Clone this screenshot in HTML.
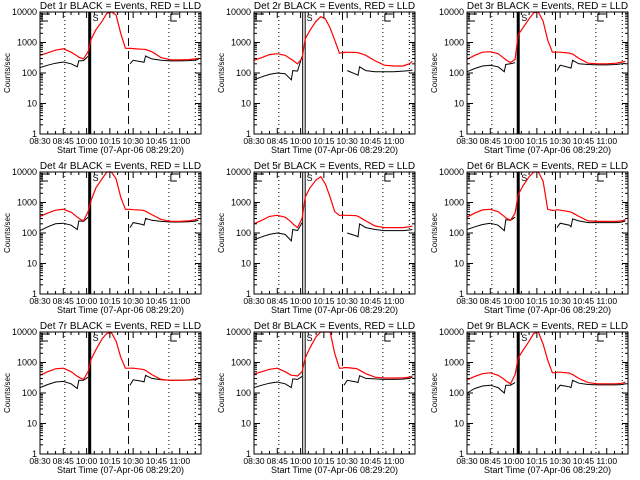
<!DOCTYPE html>
<html><head><meta charset="utf-8"><style>
html,body{margin:0;padding:0;background:#fff;}
svg{display:block;font-family:"Liberation Sans",sans-serif;}
</style></head><body>
<svg id="chart" width="640" height="480" viewBox="0 0 640 480"></svg>
<script>
const titles = ["Det 1r","Det 2r","Det 3r","Det 4r","Det 5r","Det 6r","Det 7r","Det 8r","Det 9r"];
const xTickLabels = ["08:30","08:45","10:00","10:15","10:30","10:45","11:00"];
const yTickValues = [1,10,100,1000,10000];
const times = [0,5,10,15,20,24,25,28,31,33,36,40,43,46,49,52,55,57,58,60,66,67,68,72,78,84,90,96,100,102];
const N = null;
const red1 = [380,460,560,620,480,360,330,290,500,1300,2600,5000,9000,11000,8000,2000,650,640,640,630,600,600,590,500,320,270,270,275,290,300];
const blk1 = [150,180,210,230,200,160,250,255,350,N,N,N,N,N,N,N,N,N,200,260,230,225,360,290,260,250,250,255,265,280];
const red2 = [260,320,400,430,380,280,260,200,300,1300,2500,5000,7000,6000,3000,1200,450,460,470,480,470,460,450,380,250,180,170,170,200,240];
const blk2 = [60,75,90,100,95,60,120,115,350,N,N,N,N,N,N,N,N,N,N,120,90,85,160,120,110,110,110,115,120,125];
const red3 = [280,380,480,500,430,300,270,220,280,1800,3000,6000,9500,10000,5000,1200,480,480,480,480,450,430,420,300,210,200,200,210,230,240];
const blk3 = [110,140,170,180,160,110,190,200,220,N,N,N,N,N,N,N,N,N,120,180,150,145,260,200,190,185,185,190,200,205];
const red4 = [350,450,560,600,480,330,300,250,500,1200,3000,6000,10000,11000,6000,1500,600,600,600,580,560,540,520,400,280,240,240,250,270,300];
const blk4 = [120,160,200,210,180,130,250,240,330,N,N,N,N,N,N,N,N,N,150,220,190,180,300,260,240,230,230,235,245,260];
const red5 = [200,260,350,380,330,230,200,150,300,1500,3000,5500,7000,4000,1500,500,380,380,380,380,370,350,330,250,170,150,150,150,160,170];
const blk5 = [60,75,90,100,90,55,130,120,220,N,N,N,N,N,N,N,N,N,N,100,80,75,200,150,130,120,120,120,125,130];
const red6 = [330,450,570,600,500,350,310,260,450,1800,3500,7000,11000,12000,5000,600,550,560,580,560,500,480,460,350,250,240,240,240,250,280];
const blk6 = [130,160,190,210,180,120,270,260,330,N,N,N,N,N,N,N,N,N,150,210,180,160,290,250,220,220,220,220,230,250];
const red7 = [380,500,620,650,500,350,330,280,500,1300,2600,6000,9000,9500,5000,1500,650,650,650,650,600,580,550,400,280,260,260,270,290,310];
const blk7 = [150,190,230,240,200,140,260,260,330,N,N,N,N,N,N,N,N,N,180,270,240,230,380,300,270,260,260,265,275,290];
const red8 = [420,500,600,650,500,380,380,360,500,1400,3000,7000,12000,13000,10000,2000,650,650,680,680,630,600,560,430,330,310,310,310,330,360];
const blk8 = [150,180,210,230,200,150,290,280,350,N,N,N,N,N,N,N,N,N,180,260,230,220,370,300,290,280,280,285,300,330];
const red9 = [270,350,430,460,380,280,250,200,400,1400,2500,5000,9000,11000,4000,1200,460,460,480,480,450,420,400,300,220,200,200,200,210,230];
const blk9 = [100,140,170,180,150,100,180,180,220,N,N,N,N,N,N,N,N,N,130,180,160,150,260,210,190,185,185,185,190,200];
const reds = [red1,red2,red3,red4,red5,red6,red7,red8,red9];
const blks = [blk1,blk2,blk3,blk4,blk5,blk6,blk7,blk8,blk9];
const solidLineTime = [32,32,33,32,32,33,32,32,33];
const doubleSolid = [false,true,false,false,true,false,false,true,false];
const dottedTimes = [16,83,100];
const dashedTime = 57;

const NS="http://www.w3.org/2000/svg";
const svg=document.getElementById('chart');
const lefts=[40,254,467], tops=[12,172,332], W=161, H=122, TMAX=103.7;
function mk(tag,attrs,parent){const e=document.createElementNS(NS,tag);for(const k in attrs)e.setAttribute(k,attrs[k]);(parent||svg).appendChild(e);return e;}

for(let p=0;p<9;p++){
  const L=lefts[p%3], T=tops[Math.floor(p/3)], B=T+H;
  const xs=t=>L+t/TMAX*W;
  const ys=v=>B-Math.log10(Math.max(1,Math.min(10000,v)))/4*H;
  const g=mk('g',{});
  
  
  // vertical markers
  dottedTimes.forEach(t=>{const l=mk('line',{x1:xs(t),x2:xs(t),y1:T,y2:B,stroke:'#000','stroke-width':1,'stroke-dasharray':'1,3'},g);
    });
  const dl=mk('line',{x1:xs(dashedTime),x2:xs(dashedTime),y1:T,y2:B,stroke:'#000','stroke-width':1,'stroke-dasharray':'8,5'},g);
  
  const st=solidLineTime[p];
  if(doubleSolid[p]){
    [-1,1.5].forEach(o=>{const l=mk('line',{x1:xs(st)+o,x2:xs(st)+o,y1:T,y2:B,stroke:'#000','stroke-width':1},g);
      });
  } else {
    const l=mk('line',{x1:xs(st),x2:xs(st),y1:T,y2:B,stroke:'#000','stroke-width':3},g);
    
  }
  // brackets
  [0,83].forEach(t=>{const x=xs(t)+2;const b=mk('path',{d:`M${x+8},${T+2} H${x} V${T+9} H${x+6}`,fill:'none',stroke:'#000','stroke-width':1},g);
    });
  const sm=mk('text',{x:xs(st)+3,y:T+9,'font-size':9},g);sm.textContent='S';
  
  // series
  function path(arr){let d='',pen=false;arr.forEach((v,i)=>{if(v===null){pen=false;return;}d+=(pen?'L':'M')+xs(times[i]).toFixed(1)+','+ys(v).toFixed(1);pen=true;});return d;}
  const bl=mk('path',{d:path(blks[p]),fill:'none',stroke:'#000','stroke-width':1},g);
  
  const rl=mk('path',{d:path(reds[p]),fill:'none',stroke:'#f00','stroke-width':1.2},g);
  
  // frame
  const fr=mk('rect',{x:L,y:T,width:W,height:H,fill:'none',stroke:'#000','stroke-width':1},g);
  
  // y ticks
  yTickValues.forEach(v=>{const y=ys(v);
    mk('line',{x1:L,x2:L+6,y1:y,y2:y,stroke:'#000'},g);mk('line',{x1:L+W-6,x2:L+W,y1:y,y2:y,stroke:'#000'},g);
    const tl=mk('text',{x:L-3,y:y+3,'font-size':9,'text-anchor':'end'},g);tl.textContent=String(v);
    
    if(v<10000)for(let m=2;m<10;m++){const yy=ys(v*m);mk('line',{x1:L,x2:L+3,y1:yy,y2:yy,stroke:'#000'},g);mk('line',{x1:L+W-3,x2:L+W,y1:yy,y2:yy,stroke:'#000'},g);}
  });
  // x ticks
  for(let t=0;t<=TMAX;t+=5){const x=xs(t),len=(t%15===0)?6:3;
    mk('line',{x1:x,x2:x,y1:B,y2:B-len,stroke:'#000'},g);mk('line',{x1:x,x2:x,y1:T,y2:T+len,stroke:'#000'},g);}
  xTickLabels.forEach((s,i)=>{const tl=mk('text',{x:xs(i*15),y:B+10,'font-size':8.5,'text-anchor':'middle'},g);tl.textContent=s;
    });
  const xt=mk('text',{x:L+W/2,y:B+19,'font-size':9,'text-anchor':'middle'},g);xt.textContent='Start Time (07-Apr-06 08:29:20)';
  
  const yt=mk('text',{x:0,y:0,'font-size':8,'text-anchor':'middle',transform:`translate(${L-30},${T+H/2}) rotate(-90)`},g);yt.textContent='Counts/sec';
  
  const ti=mk('text',{x:L+W/2,y:T-3,'font-size':10,'text-anchor':'middle'},g);ti.textContent=titles[p]+' BLACK = Events, RED = LLD';
  
}
</script>
</body></html>
